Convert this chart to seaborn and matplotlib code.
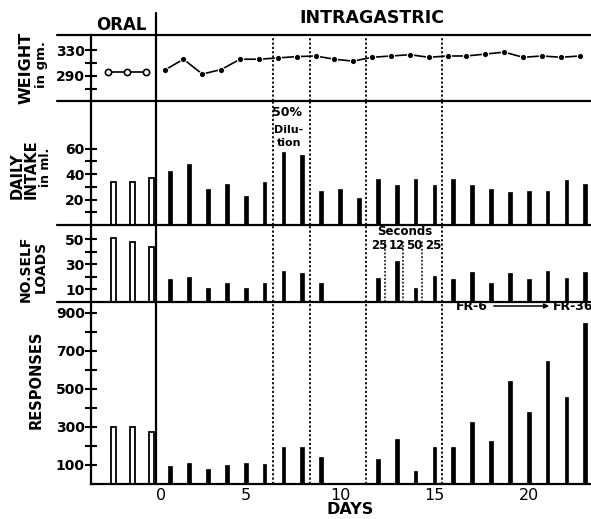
import numpy as np
import pandas as pd
import matplotlib
matplotlib.use('Agg')
import matplotlib.pyplot as plt
import seaborn as sns
from matplotlib.lines import Line2D

# ---- data ----
oral_days = [-2, -1, 0]
iv_days = list(range(1, 24))
load_days = [1, 2, 3, 4, 5, 6, 7, 8, 9, 12, 13, 14, 15, 16, 17, 18, 19, 20, 21, 22, 23]

oral_weight = [296, 296, 296]
iv_weight = [299, 316, 293, 300, 316, 316, 318, 320, 321, 316, 313, 319,
             321, 323, 319, 321, 321, 324, 327, 319, 321, 319, 321]

oral_intake = [34, 34, 37]
iv_intake = [42, 48, 28, 32, 23, 34, 57, 55, 27, 28, 21, 36,
             31, 36, 31, 36, 31, 28, 26, 27, 27, 35, 32]

oral_loads = [51, 48, 44]
iv_loads = [18, 20, 11, 15, 11, 15, 25, 23, 15,
            19, 33, 11, 21, 18, 24, 15, 23, 18, 25, 19, 24]

oral_resp = [300, 295, 270]
iv_resp = [92, 109, 76, 97, 109, 105, 190, 191, 142,
           128, 234, 67, 191, 191, 325, 223, 539, 377, 646, 453, 847]

phase_lines = [6.45, 8.4, 11.4, 15.4]
seconds_lines = [12.37, 13.35, 14.35]
seconds_labels = ['25', '12', '50', '25']
route_split = 0.25

# ---- layout ----
sns.set_style('white')
plt.rcParams['font.family'] = ['DejaVu Sans']
for k in ['text.color', 'axes.edgecolor', 'axes.labelcolor', 'xtick.color', 'ytick.color']:
    plt.rcParams[k] = 'black'

W, H = 591, 519
fig = plt.figure(figsize=(W / 100, H / 100), dpi=100)
left = 91


def px(x, y):
    return x / W, 1 - y / H


def add_panel(top, bottom):
    return fig.add_axes([left / W, 1 - bottom / H, 1 - left / W, (bottom - top) / H])


ax_w = add_panel(34.7, 100.7)
ax_i = add_panel(100.7, 225)
ax_l = add_panel(225, 301.7)
ax_r = add_panel(301.7, 483.5)
axes = [ax_w, ax_i, ax_l, ax_r]


def draw_bars(ax, x_oral, y_oral, x_iv, y_iv):
    sns.barplot(x=x_oral, y=y_oral, native_scale=True, width=0.25, color='white',
                saturation=1, edgecolor='black', linewidth=1.3, errorbar=None, ax=ax)
    sns.barplot(x=x_iv, y=y_iv, native_scale=True, width=0.2, color='black',
                saturation=1, edgecolor='black', linewidth=0.5, errorbar=None, ax=ax)


# weight
sns.lineplot(x=np.array(oral_days) - 0.3, y=oral_weight, marker='o', color='black',
             markerfacecolor='white', markeredgecolor='black', markersize=4.5,
             markeredgewidth=1.2, linewidth=1.2, ax=ax_w)
sns.lineplot(x=np.array(iv_days) - 0.3, y=iv_weight, marker='o', color='black',
             markersize=4.5, linewidth=1.2, ax=ax_w)

draw_bars(ax_i, oral_days, oral_intake, iv_days, iv_intake)
draw_bars(ax_l, oral_days, oral_loads, load_days, iv_loads)
draw_bars(ax_r, oral_days, oral_resp, load_days, iv_resp)

ylims = [(251.7, 354), (0, 97.5), (0, 61.5), (0, 957)]
major = [[290, 330], [20, 40, 60], [10, 30, 50], [100, 300, 500, 700, 900]]
minor = [[270, 310], [10, 30, 50], [20, 40], [200, 400, 600, 800]]
for ax, yl, mj, mn in zip(axes, ylims, major, minor):
    ax.set_xlim(-3.2, 23.3)
    ax.set_ylim(*yl)
    ax.set_facecolor('none')
    ax.set_xlabel('')
    ax.set_ylabel('')
    ax.set_yticks(mj)
    ax.set_yticks(mn, minor=True)
    ax.tick_params(axis='y', which='both', left=True, direction='inout', length=9,
                   width=1.5, labelsize=10, pad=0)
    for lab in ax.get_yticklabels():
        lab.set_fontweight('bold')
    for s in ['top', 'right', 'bottom']:
        ax.spines[s].set_visible(False)
    ax.spines['left'].set_linewidth(1.6)
    ax.axvline(route_split, color='black', lw=1.6)
    for d in phase_lines:
        ax.axvline(d, color='black', lw=1.3, linestyle=(0, (1.2, 1.2)))
    if ax is not ax_r:
        ax.set_xticks([])

# oral / intragastric divider above weight panel
ax_w.axvline(route_split, ymin=1, ymax=1.33, color='black', lw=1.6, clip_on=False)

# extra dotted lines in self-load panel
for d in seconds_lines:
    ax_l.axvline(d, ymax=0.8, color='black', lw=1.1, linestyle=(0, (1.2, 1.2)))

# responses x axis
ax_r.spines['bottom'].set_visible(True)
ax_r.spines['bottom'].set_linewidth(1.6)
ax_r.set_xticks([0.5, 5, 10, 15, 20])
ax_r.set_xticklabels(['0', '5', '10', '15', '20'], fontsize=11.5)
ax_r.tick_params(axis='x', length=0, pad=3)

# panel separators extended to the left
for y in [34.7, 100.7, 225, 301.7]:
    x0, yy = px(57, y)
    fig.add_artist(Line2D([x0, 1], [yy, yy], color='black', lw=1.6,
                          transform=fig.transFigure))

# headers
fig.text(*px(121, 25), 'ORAL', ha='center', va='center', fontsize=12, fontweight='bold')
fig.text(*px(372, 18), 'INTRAGASTRIC', ha='center', va='center', fontsize=12.5,
         fontweight='bold')

# y labels
lab = dict(rotation=90, ha='center', va='center', fontweight='bold')
fig.text(*px(26, 68), 'WEIGHT', fontsize=11.5, **lab)
fig.text(*px(42, 65), 'in gm.', fontsize=9.5, **lab)
fig.text(*px(17.5, 176), 'DAILY', fontsize=10.5, **lab)
fig.text(*px(31.5, 169), 'INTAKE', fontsize=10.5, **lab)
fig.text(*px(45, 167), 'in ml.', fontsize=9, **lab)
fig.text(*px(25.5, 269), 'NO.SELF', fontsize=10, **lab)
fig.text(*px(40.5, 267), 'LOADS', fontsize=10, **lab)
fig.text(*px(36, 380), 'RESPONSES', fontsize=10.5, **lab)
fig.text(*px(350, 510), 'DAYS', ha='center', va='center', fontsize=11.5, fontweight='bold')

# annotations
ann = dict(ha='center', va='center', fontweight='bold')
fig.text(*px(287, 112), '50%', fontsize=9, **ann)
fig.text(*px(289, 130), 'Dilu-', fontsize=8, **ann)
fig.text(*px(289, 143), 'tion', fontsize=8, **ann)
fig.text(*px(405, 231), 'Seconds', fontsize=8.5, **ann)
for xpx, t in zip([379, 396.5, 414.5, 433], seconds_labels):
    fig.text(*px(xpx, 245), t, fontsize=8.5, **ann)
fig.text(*px(472, 306), 'FR-6', fontsize=9, **ann)
fig.text(*px(553, 306), 'FR-36', ha='left', va='center', fontsize=9, fontweight='bold')
fig.add_artist(matplotlib.patches.FancyArrowPatch(px(491, 306), px(552, 306),
               transform=fig.transFigure, arrowstyle='-|>', mutation_scale=7,
               color='black', lw=1.1))

fig.savefig('out.png', dpi=100)
